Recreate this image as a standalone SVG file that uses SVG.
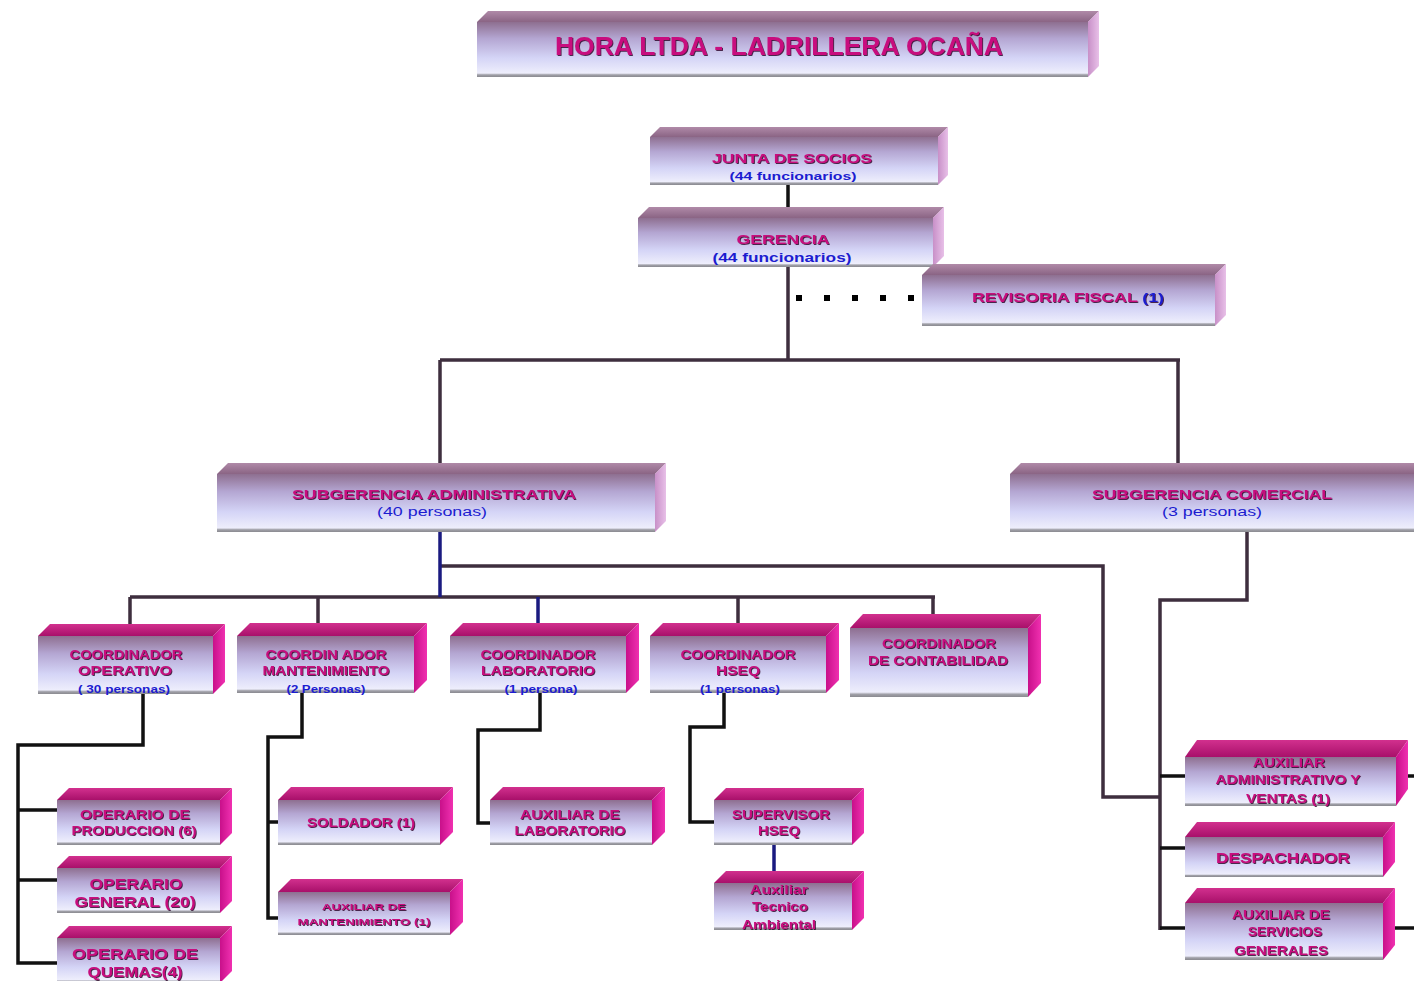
<svg xmlns="http://www.w3.org/2000/svg" width="1414" height="981" viewBox="0 0 1414 981">
<defs>
<linearGradient id="gF" x1="0" y1="0" x2="0" y2="1">
<stop offset="0" stop-color="#8e6f90"/>
<stop offset="0.3" stop-color="#b4a6d2"/>
<stop offset="0.65" stop-color="#d4d4f6"/>
<stop offset="0.93" stop-color="#eeeefc"/>
<stop offset="0.96" stop-color="#a0a0a8"/>
<stop offset="1" stop-color="#8a8a90"/>
</linearGradient>
<linearGradient id="gTU" x1="0" y1="0" x2="0" y2="1">
<stop offset="0" stop-color="#b08aa8"/>
<stop offset="1" stop-color="#8a6484"/>
</linearGradient>
<linearGradient id="gSU" x1="0" y1="0" x2="1" y2="0">
<stop offset="0" stop-color="#c890c8"/>
<stop offset="1" stop-color="#e8c0e8"/>
</linearGradient>
<linearGradient id="gTL" x1="0" y1="0" x2="0" y2="1">
<stop offset="0" stop-color="#d2308e"/>
<stop offset="1" stop-color="#a8106a"/>
</linearGradient>
<linearGradient id="gSL" x1="0" y1="0" x2="1" y2="0">
<stop offset="0" stop-color="#c8108a"/>
<stop offset="1" stop-color="#f030b0"/>
</linearGradient>
<filter id="sh" x="-5%" y="-20%" width="110%" height="140%">
<feDropShadow dx="0.9" dy="0.9" stdDeviation="0.3" flood-color="#280020" flood-opacity="0.9"/>
</filter>
</defs>
<style>
.f{fill:url(#gF)}
.tu{fill:url(#gTU)}
.su{fill:url(#gSU)}
.tl{fill:url(#gTL)}
.sl{fill:url(#gSL)}
text{font-family:"Liberation Sans",Arial,sans-serif;font-weight:bold;text-anchor:middle;dominant-baseline:central}
.m{fill:#c8107e;filter:url(#sh)}
.b{fill:#1c1cd0}
.n{font-weight:normal}
.ln{fill:none;stroke:#3e2e3e;stroke-width:3.5}
.lk{fill:none;stroke:#111;stroke-width:3.5}
.nv{fill:none;stroke:#1a1a80;stroke-width:3.5}
.dot{fill:#000}
</style>
<rect width="1414" height="981" fill="#ffffff"/>

<g id="connectors">
<path class="lk" d="M788,185 V210"/>
<path class="ln" d="M788,267 V360 M440,360 H1180 M440,360 V463 M1178,360 V463"/>
<rect class="dot" x="796" y="295" width="6" height="6"/>
<rect class="dot" x="824" y="295" width="6" height="6"/>
<rect class="dot" x="852" y="295" width="6" height="6"/>
<rect class="dot" x="880" y="295" width="6" height="6"/>
<rect class="dot" x="908" y="295" width="6" height="6"/>
<path class="ln" d="M440,566 H1103 V797 H1160"/>
<path class="ln" d="M130,597 H935 M130,597 V636 M318,597 V625 M738,597 V625 M933,597 V615"/>
<path class="nv" d="M440,532 V597 M538,597 V625"/>
<path class="ln" d="M1247,532 V600 H1160 V930"/>
<path class="lk" d="M1160,776 H1185 M1160,848 H1185 M1160,928 H1185 M1408,776 H1414 M1395,928 H1414"/>
<path class="lk" d="M143,694 V745 H18 V963 H57 M18,810 H57 M18,880 H57"/>
<path class="lk" d="M302,693 V737 H268 V918 H278 M268,822 H278"/>
<path class="lk" d="M540,693 V730 H478 V823 H490"/>
<path class="lk" d="M724,693 V727 H690 V822 H714"/>
<path class="nv" d="M774,845 V872"/>
</g>

<g id="n-title">
<rect class="f" x="477" y="22" width="611" height="55"/>
<polygon class="tu" points="477,22 488,11 1099,11 1088,22"/>
<polygon class="su" points="1088,22 1099,11 1099,66 1088,77"/>
<text class="m" x="779" y="46" font-size="26" textLength="448" lengthAdjust="spacingAndGlyphs">HORA LTDA - LADRILLERA OCAÑA</text>
</g>

<g id="n-junta">
<rect class="f" x="650" y="137" width="288" height="48"/>
<polygon class="tu" points="650,137 660,127 948,127 938,137"/>
<polygon class="su" points="938,137 948,127 948,175 938,185"/>
<text class="m" x="792" y="158" font-size="13" textLength="160" lengthAdjust="spacingAndGlyphs">JUNTA DE SOCIOS</text>
<text class="b" x="793" y="176" font-size="11" textLength="127" lengthAdjust="spacingAndGlyphs">(44 funcionarios)</text>
</g>

<g id="n-gerencia">
<rect class="f" x="638" y="218" width="295" height="49"/>
<polygon class="tu" points="638,218 649,207 944,207 933,218"/>
<polygon class="su" points="933,218 944,207 944,256 933,267"/>
<text class="m" x="783" y="239" font-size="13" textLength="93" lengthAdjust="spacingAndGlyphs">GERENCIA</text>
<text class="b" x="782" y="257" font-size="13" textLength="139" lengthAdjust="spacingAndGlyphs">(44 funcionarios)</text>
</g>

<g id="n-revisoria">
<rect class="f" x="922" y="275" width="293" height="51"/>
<polygon class="tu" points="922,275 933,264 1226,264 1215,275"/>
<polygon class="su" points="1215,275 1226,264 1226,315 1215,326"/>
<text class="m" x="1068" y="297" font-size="13" textLength="192" lengthAdjust="spacingAndGlyphs">REVISORIA FISCAL <tspan class="b">(1)</tspan></text>
</g>

<g id="n-subadmin">
<rect class="f" x="217" y="474" width="438" height="58"/>
<polygon class="tu" points="217,474 228,463 666,463 655,474"/>
<polygon class="su" points="655,474 666,463 666,521 655,532"/>
<text class="m" x="434" y="494" font-size="13" textLength="284" lengthAdjust="spacingAndGlyphs">SUBGERENCIA ADMINISTRATIVA</text>
<text class="b n" x="432" y="512" font-size="12" textLength="110" lengthAdjust="spacingAndGlyphs">(40 personas)</text>
</g>

<g id="n-subcom">
<rect class="f" x="1010" y="474" width="404" height="58"/>
<polygon class="tu" points="1010,474 1021,463 1414,463 1414,474"/>
<text class="m" x="1212" y="494" font-size="13" textLength="240" lengthAdjust="spacingAndGlyphs">SUBGERENCIA COMERCIAL</text>
<text class="b n" x="1212" y="512" font-size="12" textLength="100" lengthAdjust="spacingAndGlyphs">(3 personas)</text>
</g>

<g id="n-coord-op">
<rect class="f" x="38" y="636" width="175" height="58"/>
<polygon class="tl" points="38,636 50,624 225,624 213,636"/>
<polygon class="sl" points="213,636 225,624 225,682 213,694"/>
<text class="m" x="126" y="655" font-size="12" textLength="113" lengthAdjust="spacingAndGlyphs">COORDINADOR</text>
<text class="m" x="125" y="671" font-size="12" textLength="94" lengthAdjust="spacingAndGlyphs">OPERATIVO</text>
<text class="b" x="124" y="689" font-size="11" textLength="92" lengthAdjust="spacingAndGlyphs">( 30 personas)</text>
</g>

<g id="n-coord-mant">
<rect class="f" x="237" y="636" width="177" height="57"/>
<polygon class="tl" points="237,636 250,623 427,623 414,636"/>
<polygon class="sl" points="414,636 427,623 427,680 414,693"/>
<text class="m" x="326" y="655" font-size="12" textLength="121" lengthAdjust="spacingAndGlyphs">COORDIN ADOR</text>
<text class="m" x="326" y="671" font-size="12" textLength="127" lengthAdjust="spacingAndGlyphs">MANTENIMIENTO</text>
<text class="b" x="326" y="689" font-size="11" textLength="79" lengthAdjust="spacingAndGlyphs">(2 Personas)</text>
</g>

<g id="n-coord-lab">
<rect class="f" x="450" y="636" width="176" height="57"/>
<polygon class="tl" points="450,636 463,623 639,623 626,636"/>
<polygon class="sl" points="626,636 639,623 639,680 626,693"/>
<text class="m" x="538" y="655" font-size="12" textLength="115" lengthAdjust="spacingAndGlyphs">COORDINADOR</text>
<text class="m" x="538" y="671" font-size="12" textLength="114" lengthAdjust="spacingAndGlyphs">LABORATORIO</text>
<text class="b" x="541" y="689" font-size="11" textLength="73" lengthAdjust="spacingAndGlyphs">(1 persona)</text>
</g>

<g id="n-coord-hseq">
<rect class="f" x="650" y="636" width="176" height="57"/>
<polygon class="tl" points="650,636 663,623 839,623 826,636"/>
<polygon class="sl" points="826,636 839,623 839,680 826,693"/>
<text class="m" x="738" y="655" font-size="12" textLength="115" lengthAdjust="spacingAndGlyphs">COORDINADOR</text>
<text class="m" x="738" y="671" font-size="12" textLength="44" lengthAdjust="spacingAndGlyphs">HSEQ</text>
<text class="b" x="740" y="689" font-size="11" textLength="80" lengthAdjust="spacingAndGlyphs">(1 personas)</text>
</g>

<g id="n-coord-cont">
<rect class="f" x="850" y="628" width="178" height="69"/>
<polygon class="tl" points="850,628 863,614 1041,614 1028,628"/>
<polygon class="sl" points="1028,628 1041,614 1041,683 1028,697"/>
<text class="m" x="939" y="644" font-size="12" textLength="114" lengthAdjust="spacingAndGlyphs">COORDINADOR</text>
<text class="m" x="938" y="661" font-size="12" textLength="140" lengthAdjust="spacingAndGlyphs">DE CONTABILIDAD</text>
</g>

<g id="n-op-prod">
<rect class="f" x="57" y="800" width="163" height="45"/>
<polygon class="tl" points="57,800 69,788 232,788 220,800"/>
<polygon class="sl" points="220,800 232,788 232,833 220,845"/>
<text class="m" x="135" y="815" font-size="12" textLength="110" lengthAdjust="spacingAndGlyphs">OPERARIO DE</text>
<text class="m" x="134" y="831" font-size="12" textLength="125" lengthAdjust="spacingAndGlyphs">PRODUCCION (6)</text>
</g>

<g id="n-op-gen">
<rect class="f" x="57" y="868" width="163" height="45"/>
<polygon class="tl" points="57,868 69,856 232,856 220,868"/>
<polygon class="sl" points="220,868 232,856 232,901 220,913"/>
<text class="m" x="136" y="883" font-size="15" textLength="93" lengthAdjust="spacingAndGlyphs">OPERARIO</text>
<text class="m" x="135" y="901" font-size="15" textLength="121" lengthAdjust="spacingAndGlyphs">GENERAL (20)</text>
</g>

<g id="n-op-quemas">
<rect class="f" x="57" y="938" width="163" height="45"/>
<polygon class="tl" points="57,938 69,926 232,926 220,938"/>
<polygon class="sl" points="220,938 232,926 232,971 220,983"/>
<text class="m" x="135" y="953" font-size="15" textLength="126" lengthAdjust="spacingAndGlyphs">OPERARIO DE</text>
<text class="m" x="135" y="971" font-size="15" textLength="95" lengthAdjust="spacingAndGlyphs">QUEMAS(4)</text>
</g>

<g id="n-soldador">
<rect class="f" x="278" y="800" width="162" height="45"/>
<polygon class="tl" points="278,800 291,787 453,787 440,800"/>
<polygon class="sl" points="440,800 453,787 453,832 440,845"/>
<text class="m" x="361" y="823" font-size="12" textLength="108" lengthAdjust="spacingAndGlyphs">SOLDADOR (1)</text>
</g>

<g id="n-aux-mant">
<rect class="f" x="278" y="892" width="172" height="43"/>
<polygon class="tl" points="278,892 291,879 463,879 450,892"/>
<polygon class="sl" points="450,892 463,879 463,922 450,935"/>
<text class="m" x="364" y="907" font-size="9" textLength="84" lengthAdjust="spacingAndGlyphs">AUXILIAR DE</text>
<text class="m" x="364" y="922" font-size="9" textLength="133" lengthAdjust="spacingAndGlyphs">MANTENIMIENTO (1)</text>
</g>

<g id="n-aux-lab">
<rect class="f" x="490" y="800" width="162" height="45"/>
<polygon class="tl" points="490,800 503,787 665,787 652,800"/>
<polygon class="sl" points="652,800 665,787 665,832 652,845"/>
<text class="m" x="570" y="815" font-size="12" textLength="100" lengthAdjust="spacingAndGlyphs">AUXILIAR DE</text>
<text class="m" x="570" y="831" font-size="12" textLength="111" lengthAdjust="spacingAndGlyphs">LABORATORIO</text>
</g>

<g id="n-supervisor">
<rect class="f" x="714" y="800" width="138" height="45"/>
<polygon class="tl" points="714,800 726,788 864,788 852,800"/>
<polygon class="sl" points="852,800 864,788 864,833 852,845"/>
<text class="m" x="781" y="815" font-size="12" textLength="98" lengthAdjust="spacingAndGlyphs">SUPERVISOR</text>
<text class="m" x="779" y="831" font-size="12" textLength="42" lengthAdjust="spacingAndGlyphs">HSEQ</text>
</g>

<g id="n-aux-tec">
<rect class="f" x="714" y="883" width="138" height="47"/>
<polygon class="tl" points="714,883 726,871 864,871 852,883"/>
<polygon class="sl" points="852,883 864,871 864,918 852,930"/>
<text class="m" x="779" y="890" font-size="12" textLength="58" lengthAdjust="spacingAndGlyphs">Auxiliar</text>
<text class="m" x="780" y="907" font-size="12" textLength="56" lengthAdjust="spacingAndGlyphs">Tecnico</text>
<text class="m" x="779" y="925" font-size="12" textLength="74" lengthAdjust="spacingAndGlyphs">Ambiental</text>
</g>

<g id="n-aux-admin">
<rect class="f" x="1185" y="757" width="211" height="49"/>
<polygon class="tl" points="1185,757 1197,740 1408,740 1396,757"/>
<polygon class="sl" points="1396,757 1408,740 1408,789 1396,806"/>
<text class="m" x="1289" y="763" font-size="12" textLength="72" lengthAdjust="spacingAndGlyphs">AUXILIAR</text>
<text class="m" x="1288" y="780" font-size="12" textLength="145" lengthAdjust="spacingAndGlyphs">ADMINISTRATIVO Y</text>
<text class="m" x="1288" y="799" font-size="12" textLength="84" lengthAdjust="spacingAndGlyphs">VENTAS (1)</text>
</g>

<g id="n-despachador">
<rect class="f" x="1185" y="837" width="198" height="40"/>
<polygon class="tl" points="1185,837 1197,822 1395,822 1383,837"/>
<polygon class="sl" points="1383,837 1395,822 1395,862 1383,877"/>
<text class="m" x="1283" y="857" font-size="15" textLength="134" lengthAdjust="spacingAndGlyphs">DESPACHADOR</text>
</g>

<g id="n-aux-serv">
<rect class="f" x="1185" y="903" width="198" height="57"/>
<polygon class="tl" points="1185,903 1197,888 1395,888 1383,903"/>
<polygon class="sl" points="1383,903 1395,888 1395,945 1383,960"/>
<text class="m" x="1281" y="915" font-size="12" textLength="98" lengthAdjust="spacingAndGlyphs">AUXILIAR DE</text>
<text class="m" x="1285" y="932" font-size="12" textLength="74" lengthAdjust="spacingAndGlyphs">SERVICIOS</text>
<text class="m" x="1281" y="951" font-size="12" textLength="94" lengthAdjust="spacingAndGlyphs">GENERALES</text>
</g>
</svg>
